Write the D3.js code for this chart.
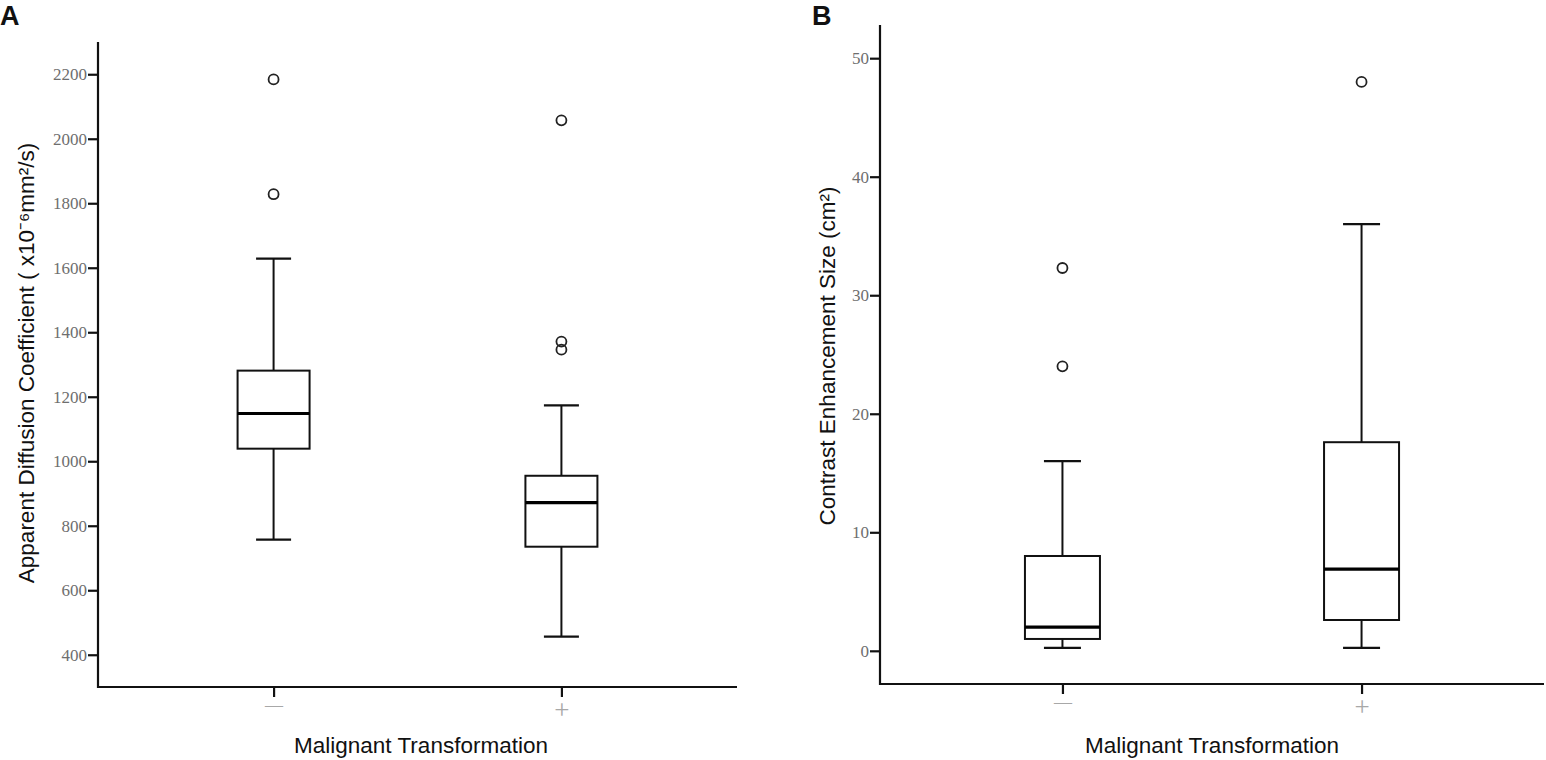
<!DOCTYPE html>
<html>
<head>
<meta charset="utf-8">
<script src="https://cdn.jsdelivr.net/npm/d3@7"></script>
<style>
  body { margin: 0; background: #fff; }
  svg { display: block; }
</style>
</head>
<body>
<svg id="chart"></svg>
<script>
// categories (malignant transformation no / yes)
var groups = ["—", "+"];

// panel A: apparent diffusion coefficient
var adcLow = [757, 456];
var adcQ1 = [1039, 735];
var adcMedian = [1148, 872];
var adcQ3 = [1281, 955];
var adcHigh = [1628, 1173];
var adcOutliers = [[2184, 1828], [2057, 1371, 1346]];
var adcTicks = [400, 600, 800, 1000, 1200, 1400, 1600, 1800, 2000, 2200];

// panel B: contrast enhancement size
var cesLow = [0.25, 0.25];
var cesQ1 = [1.0, 2.6];
var cesMedian = [2.0, 6.9];
var cesQ3 = [8.0, 17.6];
var cesHigh = [16.0, 36.0];
var cesOutliers = [[32.3, 24.0], [48.0]];
var cesTicks = [0, 10, 20, 30, 40, 50];

var svg = d3.select("#chart")
  .attr("width", 1546)
  .attr("height", 760);

var drawPanel = function(opt){
  var g = svg.append("g");

  var x = d3.scalePoint()
    .domain(groups)
    .range([opt.left, opt.right])
    .padding(0.61);

  var y = d3.scaleLinear()
    .domain(opt.domain)
    .range([opt.bottom, opt.top]);

  // y axis
  var yAxis = g.append("g")
    .attr("transform", "translate(" + opt.left + ",0)")
    .call(d3.axisLeft(y).tickValues(opt.ticks).tickFormat(d3.format("d"))
      .tickSize(10).tickSizeOuter(0).tickPadding(1));
  yAxis.select(".domain").attr("stroke", "#111").attr("stroke-width", 2.2)
    .attr("d", "M0," + (opt.bottom + 1) + "V" + opt.top);
  yAxis.selectAll(".tick line").attr("stroke", "#111").attr("stroke-width", 2.2);
  yAxis.selectAll(".tick text")
    .attr("font-family", "'Liberation Serif', serif")
    .attr("font-size", 17)
    .attr("fill", "#6e6e6e");

  // x axis
  var xAxis = g.append("g")
    .attr("transform", "translate(0," + opt.bottom + ")")
    .call(d3.axisBottom(x).tickSize(10).tickSizeOuter(0).tickPadding(0));
  xAxis.select(".domain").attr("stroke", "#111").attr("stroke-width", 2.2)
    .attr("d", "M" + (opt.left - 1) + ",0H" + opt.right);
  xAxis.selectAll(".tick line").attr("stroke", "#111").attr("stroke-width", 2.2);
  xAxis.selectAll(".tick text")
    .attr("font-family", "'Liberation Serif', serif")
    .attr("font-size", function(d){ return d === "+" ? 27 : 18; })
    .attr("dy", function(d){ return d === "+" ? "0.8em" : "0.75em"; })
    .attr("fill", "#a8a8a8");

  var boxW = opt.boxW;
  var capW = opt.capW;

  var box = g.selectAll(".box")
    .data(groups)
    .enter()
    .append("g")
    .attr("class", "box");

  // whiskers
  box.append("line")
    .attr("x1", function(d){ return x(d); })
    .attr("x2", function(d){ return x(d); })
    .attr("y1", function(d, i){ return y(opt.low[i]); })
    .attr("y2", function(d, i){ return y(opt.q1[i]); })
    .attr("stroke", "#111").attr("stroke-width", 2);
  box.append("line")
    .attr("x1", function(d){ return x(d); })
    .attr("x2", function(d){ return x(d); })
    .attr("y1", function(d, i){ return y(opt.q3[i]); })
    .attr("y2", function(d, i){ return y(opt.high[i]); })
    .attr("stroke", "#111").attr("stroke-width", 2);
  // caps
  box.append("line")
    .attr("x1", function(d){ return x(d) - capW / 2; })
    .attr("x2", function(d){ return x(d) + capW / 2; })
    .attr("y1", function(d, i){ return y(opt.low[i]); })
    .attr("y2", function(d, i){ return y(opt.low[i]); })
    .attr("stroke", "#111").attr("stroke-width", 2.2);
  box.append("line")
    .attr("x1", function(d){ return x(d) - capW / 2; })
    .attr("x2", function(d){ return x(d) + capW / 2; })
    .attr("y1", function(d, i){ return y(opt.high[i]); })
    .attr("y2", function(d, i){ return y(opt.high[i]); })
    .attr("stroke", "#111").attr("stroke-width", 2.2);
  // box
  box.append("rect")
    .attr("x", function(d){ return x(d) - boxW / 2; })
    .attr("width", boxW)
    .attr("y", function(d, i){ return y(opt.q3[i]); })
    .attr("height", function(d, i){ return y(opt.q1[i]) - y(opt.q3[i]); })
    .attr("fill", "#fff")
    .attr("stroke", "#111").attr("stroke-width", 2);
  // median
  box.append("line")
    .attr("x1", function(d){ return x(d) - boxW / 2; })
    .attr("x2", function(d){ return x(d) + boxW / 2; })
    .attr("y1", function(d, i){ return y(opt.median[i]); })
    .attr("y2", function(d, i){ return y(opt.median[i]); })
    .attr("stroke", "#000").attr("stroke-width", 3.2);

  // outliers
  var pts = [];
  opt.outliers.forEach(function(vals, i){
    vals.forEach(function(v){
      pts.push({ group: groups[i], value: v });
    });
  });
  g.selectAll(".outlier")
    .data(pts)
    .enter()
    .append("circle")
    .attr("class", "outlier")
    .attr("cx", function(d){ return x(d.group); })
    .attr("cy", function(d){ return y(d.value); })
    .attr("r", 5)
    .attr("fill", "none")
    .attr("stroke", "#222")
    .attr("stroke-width", 1.8);

  // axis titles
  g.append("text")
    .attr("x", opt.xTitleX)
    .attr("y", 753)
    .attr("text-anchor", "middle")
    .attr("font-family", "'Liberation Sans', Arial, sans-serif")
    .attr("font-size", 22.5)
    .attr("fill", "#111")
    .text("Malignant Transformation");

  g.append("text")
    .attr("transform", "translate(" + opt.yTitleX + "," + opt.yTitleY + ") rotate(-90)")
    .attr("text-anchor", "middle")
    .attr("font-family", "'Liberation Sans', Arial, sans-serif")
    .attr("font-size", 22.5)
    .attr("fill", "#111")
    .text(opt.yTitle);

  // panel letter
  g.append("text")
    .attr("x", opt.letterX)
    .attr("y", 25)
    .attr("font-family", "'Liberation Sans', Arial, sans-serif")
    .attr("font-size", 27)
    .attr("font-weight", "bold")
    .attr("fill", "#111")
    .text(opt.letter);
};

drawPanel({
  letter: "A", letterX: 0,
  left: 98, right: 737, top: 42, bottom: 687,
  domain: [300, 2300], ticks: adcTicks,
  low: adcLow, q1: adcQ1, median: adcMedian, q3: adcQ3, high: adcHigh, outliers: adcOutliers,
  boxW: 72, capW: 35,
  xTitleX: 421, yTitleX: 34, yTitleY: 363,
  yTitle: "Apparent Diffusion Coefficient ( x10⁻⁶mm²/s)"
});

drawPanel({
  letter: "B", letterX: 812,
  left: 880, right: 1544, top: 25, bottom: 684,
  domain: [-2.8, 52.8], ticks: cesTicks,
  low: cesLow, q1: cesQ1, median: cesMedian, q3: cesQ3, high: cesHigh, outliers: cesOutliers,
  boxW: 75, capW: 37,
  xTitleX: 1212, yTitleX: 835, yTitleY: 356,
  yTitle: "Contrast Enhancement Size (cm²)"
});
</script>
</body>
</html>
